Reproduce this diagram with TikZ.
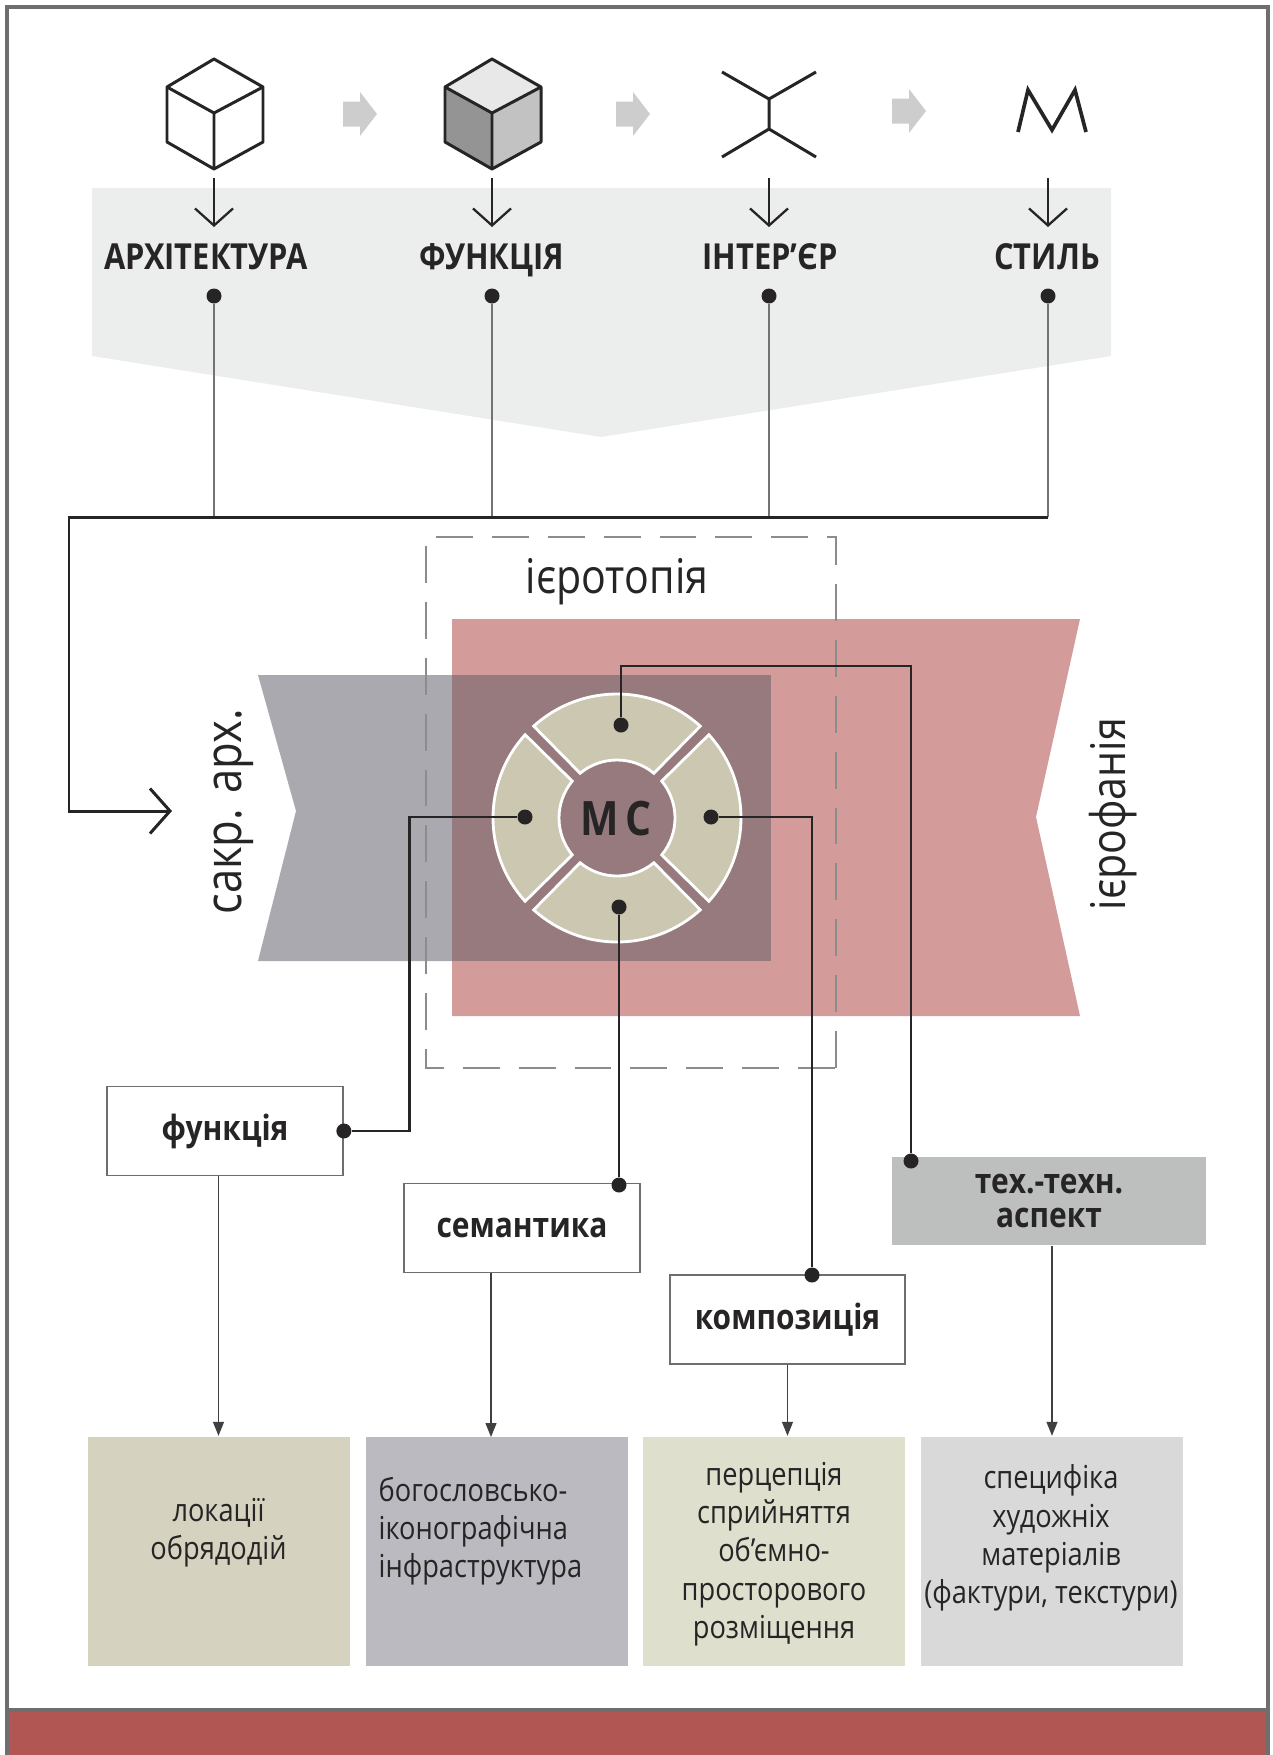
\documentclass[tikz,border=0pt]{standalone}
\usepackage{fontspec}
\setmainfont[FakeStretch=0.86]{Open Sans}
\usetikzlibrary{arrows.meta, calc}
\definecolor{framegray}{RGB}{110, 110, 110}
\definecolor{barred}{RGB}{178, 86, 84}
\definecolor{bandgray}{RGB}{236, 237, 237}
\definecolor{bannerred}{RGB}{212, 155, 155}
\definecolor{bannergray}{RGB}{169, 169, 175}
\definecolor{bannermix}{RGB}{150, 122, 126}
\definecolor{ringbeige}{RGB}{204, 199, 176}
\definecolor{inkdark}{RGB}{38, 36, 36}
\definecolor{arrowgray}{RGB}{205, 205, 205}
\definecolor{techgray}{RGB}{189, 191, 191}

\begin{document}
\begin{tikzpicture}[
  iconline/.style={draw=inkdark, line width=0.85pt, line join=round},
  headlabel/.style={anchor=base, font=\bfseries\fontsize{10.2}{12}\selectfont, text=inkdark},
  biglabel/.style={font=\fontsize{13.6}{15}\selectfont, text=inkdark},
  stepdot/.style={circle, fill=inkdark, inner sep=0pt, minimum size=0.15cm},
  roundbox/.style={draw=framegray, line width=0.5pt, fill=white, align=center, inner sep=0pt, font=\bfseries\fontsize{9.9}{9.6}\selectfont, text=inkdark},
  lowbox/.style={inner sep=0pt, minimum width=2.62cm, minimum height=2.29cm},
  lowtext/.style={align=center, inner sep=0pt, font=\fontsize{9}{10.9}\selectfont, text=inkdark},
  downbarb/.style={-{Straight Barb[length=0.17cm, width=0.38cm]}, draw=inkdark, line width=0.65pt},
  linkline/.style={draw=inkdark, line width=0.6pt},
  riseline/.style={draw=black!55, line width=0.35pt},
  thinarrow/.style={-{Triangle[length=0.14cm, width=0.11cm]}, draw=black!75, line width=0.35pt},
  grayarrow/.style={fill=arrowgray, draw=none},
  ringseg/.style={fill=ringbeige, draw=white, line width=0.8pt, line join=miter}
]
  \useasboundingbox (0, 0) rectangle (12.72, -17.55);

  % Frame and red bar
  \fill[barred] (0.07, -17.11) rectangle (12.68, -17.55);
  \draw[framegray, line width=1.1pt] (0.07, -17.55) -- (0.07, -0.07) -- (12.68, -0.07) -- (12.68, -17.55);
  \draw[framegray, line width=1pt] (0.07, -17.10) -- (12.68, -17.10);

  % Top band
  \fill[bandgray] (0.92, -1.88) -- (11.11, -1.88) -- (11.11, -3.56) -- (6.01, -4.37) -- (0.92, -3.56) -- cycle;

  % Icons
  \draw[iconline] (2.14, -0.59) -- (2.63, -0.87) -- (2.63, -1.42) -- (2.14, -1.69) -- (1.67, -1.42) -- (1.67, -0.87) -- cycle;
  \draw[iconline] (1.67, -0.87) -- (2.14, -1.13) -- (2.63, -0.87) (2.14, -1.13) -- (2.14, -1.69);

  \fill[black!9] (4.92, -0.59) -- (5.41, -0.87) -- (4.92, -1.13) -- (4.45, -0.87) -- cycle;
  \fill[black!42] (4.45, -0.87) -- (4.92, -1.13) -- (4.92, -1.69) -- (4.45, -1.42) -- cycle;
  \fill[black!24] (5.41, -0.87) -- (4.92, -1.13) -- (4.92, -1.69) -- (5.41, -1.42) -- cycle;
  \draw[iconline] (4.92, -0.59) -- (5.41, -0.87) -- (5.41, -1.42) -- (4.92, -1.69) -- (4.45, -1.42) -- (4.45, -0.87) -- cycle;
  \draw[iconline] (4.45, -0.87) -- (4.92, -1.13) -- (5.41, -0.87) (4.92, -1.13) -- (4.92, -1.69);

  \draw[iconline] (7.22, -0.72) -- (7.69, -0.99) -- (8.16, -0.72) (7.69, -0.99) -- (7.69, -1.29) (7.22, -1.57) -- (7.69, -1.29) -- (8.16, -1.57);
  \draw[iconline, line width=1.05pt, line join=miter] (10.18, -1.32) -- (10.28, -0.90) -- (10.52, -1.30) -- (10.75, -0.90) -- (10.86, -1.32);

  % Gray arrows
  \foreach \px/\py in {3.43/-1.14, 6.16/-1.14, 8.92/-1.11} {
    \fill[grayarrow] (\px, \py+0.125) -- ++(0.17, 0) -- ++(0, 0.095) -- (\px+0.34, \py) -- (\px+0.17, \py-0.22) -- ++(0, 0.095) -- (\px, \py-0.125) -- cycle;
  }

  % Head labels with their dots
  \node[headlabel] (arch) at (2.06, -2.69) {АРХІТЕКТУРА};
  \node[headlabel] (func) at (4.92, -2.69) {ФУНКЦІЯ};
  \node[headlabel] (inter) at (7.70, -2.69) {ІНТЕР’ЄР};
  \node[headlabel] (style) at (10.47, -2.69) {СТИЛЬ};

  \coordinate (arrow1) at (2.14, -1.78);
  \coordinate (arrow2) at (4.92, -1.78);
  \coordinate (arrow3) at (7.69, -1.78);
  \coordinate (arrow4) at (10.48, -1.78);
  \draw[downbarb] (arrow1) -- ++(0, -0.49);
  \draw[downbarb] (arrow2) -- ++(0, -0.49);
  \draw[downbarb] (arrow3) -- ++(0, -0.49);
  \draw[downbarb] (arrow4) -- ++(0, -0.49);

  \node[stepdot] (d1) at (2.14, -2.96) {};
  \node[stepdot] (d2) at (4.92, -2.96) {};
  \node[stepdot] (d3) at (7.69, -2.96) {};
  \node[stepdot] (d4) at (10.48, -2.96) {};
  \coordinate (railend) at (0.69, -5.17);
  \draw[riseline] (d1) -- (d1 |- railend);
  \draw[riseline] (d2) -- (d2 |- railend);
  \draw[riseline] (d3) -- (d3 |- railend);
  \draw[riseline] (d4) -- (d4 |- railend);

  % Banners
  \fill[bannerred] (4.52, -6.19) -- (10.80, -6.19) -- (10.36, -8.17) -- (10.80, -10.16) -- (4.52, -10.16) -- cycle;
  \fill[bannergray] (2.58, -6.75) -- (4.52, -6.75) -- (4.52, -9.61) -- (2.58, -9.61) -- (2.96, -8.11) -- cycle;
  \fill[bannermix] (4.52, -6.75) rectangle (7.71, -9.61);

  % Dashed field
  \draw[black!45, line width=0.75pt, dash pattern=on 10.5pt off 5.4pt] (8.36, -10.68) -- (8.36, -5.37) -- (4.26, -5.37) -- (4.26, -10.68) -- cycle;

  \node[biglabel] (topia) at (6.17, -5.82) {ієротопія};
  \node[biglabel, rotate=90, font=\fontsize{14.4}{15}\selectfont] (sacr) at (2.34, -8.12) {сакр. арх.};
  \node[biglabel, rotate=90] (fania) at (11.13, -8.14) {ієрофанія};

  % Ring
  \foreach \segang in {0, 90, 180, 270} {
    \draw[ringseg, shift={(6.17, -8.18)}, rotate=\segang]
      (47.8:1.24) arc[start angle=47.8, end angle=132.2, radius=1.24]
      -- (129.5:0.58) arc[start angle=129.5, end angle=50.5, radius=0.58] -- cycle;
  }
  \node[font=\bfseries\fontsize{13.5}{15}\selectfont, text=inkdark] (mc) at (6.16, -8.19) {М\hspace{0.06cm}С};

  \node[stepdot] (segt) at (6.21, -7.25) {};
  \node[stepdot] (segl) at (5.25, -8.17) {};
  \node[stepdot] (segr) at (7.11, -8.17) {};
  \node[stepdot] (segb) at (6.19, -9.07) {};

  % Aspect boxes
  \node[roundbox, minimum width=2.36cm, minimum height=0.89cm] (fnbox) at (2.25, -11.31) {функція};
  \node[roundbox, minimum width=2.36cm, minimum height=0.89cm] (sembox) at (5.22, -12.28) {семантика};
  \node[roundbox, minimum width=2.35cm, minimum height=0.89cm] (compbox) at (7.875, -13.195) {композиція};
  \node[roundbox, draw=none, fill=techgray, minimum width=3.14cm, minimum height=0.875cm] (techbox) at (10.49, -12.01) {тех.-техн.\\аспект};

  % Low boxes
  \node[lowbox, fill={rgb,255:red,214;green,210;blue,192}] (loc) at (2.185, -15.51) {};
  \node[lowbox, fill={rgb,255:red,186;green,186;blue,192}] (theo) at (4.965, -15.51) {};
  \node[lowbox, fill={rgb,255:red,223;green,223;blue,206}] (perc) at (7.74, -15.51) {};
  \node[lowbox, fill={rgb,255:red,217;green,217;blue,217}] (mat) at (10.52, -15.51) {};

  \node[lowtext] (loctext) at (2.185, -15.33) {локації\\обрядодій};
  \node[lowtext, align=left, anchor=west] (theotext) at (3.78, -15.31) {богословсько-\\іконографічна\\інфраструктура};
  \node[lowtext] (perctext) at (7.74, -15.54) {перцепція\\сприйняття\\об’ємно-\\просторового\\розміщення};
  \node[lowtext] (mattext) at (10.51, -15.38) {специфіка\\художніх\\матеріалів\\(фактури, текстури)};

  % Dots on the boxes
  \node[stepdot] (fndot) at (fnbox.east) {};
  \node[stepdot] (semdot) at (6.19, -11.85) {};
  \node[stepdot] (compdot) at (8.12, -12.75) {};
  \node[stepdot] (techdot) at (9.11, -11.61) {};

  % Rail to the sacred banner
  \draw[-{Straight Barb[length=0.2cm, width=0.45cm]}, draw=inkdark, line width=0.85pt] (d4 |- railend) -- (railend) -- (0.69, -8.11) -- (1.72, -8.11);

  % Links from the ring
  \draw[linkline] (segt) -- (6.21, -6.66) -| (techdot);
  \draw[linkline] (segl) -- (4.095, -8.17) |- (fndot);
  \draw[linkline] (segr) -- (8.12, -8.17) -- (compdot);
  \draw[linkline] (segb) -- (semdot);

  % Arrows to the low boxes
  \draw[thinarrow] (fnbox.south -| loc.north) -- (loc.north);
  \coordinate (theotip) at (4.91, -14.37);
  \draw[thinarrow] (sembox.south -| theotip) -- (theotip);
  \draw[thinarrow] (compbox.south) -- (compbox.south |- perc.north);
  \draw[thinarrow] (techbox.south -| mat.north) -- (mat.north);
\end{tikzpicture}
\end{document}
